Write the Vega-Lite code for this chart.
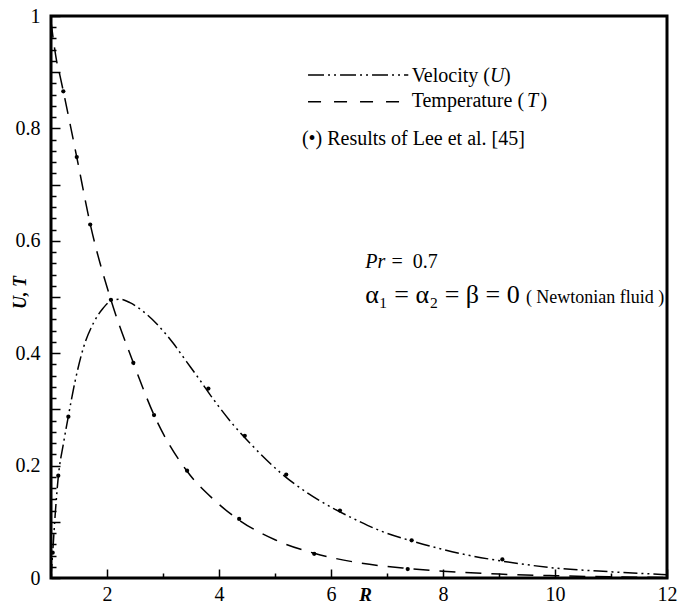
{
  "$schema": "https://vega.github.io/schema/vega-lite/v6.json",
  "width": 616,
  "height": 562,
  "autosize": {"type": "none"},
  "padding": {"left": 51, "top": 16, "right": 27, "bottom": 25},
  "config": {
    "view": {"stroke": "black", "strokeWidth": 3},
    "font": "Liberation Serif",
    "text": {"font": "Liberation Serif", "color": "black"}
  },
  "datasets": {
    "vel": [
      {"R": 1.0, "v": 0.0}, {"R": 1.03, "v": 0.045}, {"R": 1.08, "v": 0.12}, {"R": 1.13, "v": 0.18},
      {"R": 1.22, "v": 0.238}, {"R": 1.31, "v": 0.288}, {"R": 1.43, "v": 0.35}, {"R": 1.58, "v": 0.41},
      {"R": 1.76, "v": 0.454}, {"R": 1.93, "v": 0.48}, {"R": 2.07, "v": 0.493}, {"R": 2.23, "v": 0.496},
      {"R": 2.41, "v": 0.49}, {"R": 2.65, "v": 0.474}, {"R": 2.89, "v": 0.452}, {"R": 3.18, "v": 0.418},
      {"R": 3.42, "v": 0.385}, {"R": 3.66, "v": 0.352}, {"R": 3.9, "v": 0.318}, {"R": 4.26, "v": 0.272},
      {"R": 4.61, "v": 0.234}, {"R": 5.09, "v": 0.188}, {"R": 5.57, "v": 0.152}, {"R": 6.04, "v": 0.124},
      {"R": 6.52, "v": 0.1}, {"R": 6.88, "v": 0.084}, {"R": 7.44, "v": 0.066}, {"R": 8.48, "v": 0.04},
      {"R": 9.06, "v": 0.03}, {"R": 9.97, "v": 0.018}, {"R": 11.0, "v": 0.011}, {"R": 12.0, "v": 0.006}
    ],
    "temp": [
      {"R": 1.0, "v": 0.99}, {"R": 1.05, "v": 0.952}, {"R": 1.1, "v": 0.92}, {"R": 1.16, "v": 0.894},
      {"R": 1.22, "v": 0.866}, {"R": 1.46, "v": 0.749}, {"R": 1.7, "v": 0.63}, {"R": 2.07, "v": 0.495},
      {"R": 2.47, "v": 0.383}, {"R": 2.84, "v": 0.29}, {"R": 3.43, "v": 0.19}, {"R": 3.9, "v": 0.14},
      {"R": 4.36, "v": 0.103}, {"R": 5.0, "v": 0.068}, {"R": 5.7, "v": 0.044}, {"R": 6.5, "v": 0.027},
      {"R": 7.37, "v": 0.017}, {"R": 8.0, "v": 0.012}, {"R": 9.0, "v": 0.007}, {"R": 10.0, "v": 0.004},
      {"R": 11.0, "v": 0.002}, {"R": 12.0, "v": 0.001}
    ],
    "lee": [
      {"R": 1.03, "v": 0.045}, {"R": 1.13, "v": 0.182}, {"R": 1.31, "v": 0.287}, {"R": 2.07, "v": 0.495},
      {"R": 3.81, "v": 0.337}, {"R": 4.46, "v": 0.253}, {"R": 5.2, "v": 0.184}, {"R": 6.16, "v": 0.12},
      {"R": 7.44, "v": 0.067}, {"R": 9.06, "v": 0.033},
      {"R": 1.22, "v": 0.866}, {"R": 1.46, "v": 0.749}, {"R": 1.7, "v": 0.629}, {"R": 2.47, "v": 0.383},
      {"R": 2.84, "v": 0.29}, {"R": 3.43, "v": 0.191}, {"R": 4.36, "v": 0.105}, {"R": 5.7, "v": 0.043},
      {"R": 7.37, "v": 0.016}
    ],
    "legV": [{"R": 5.59, "R2": 7.38, "v": 0.895}],
    "legT": [{"R": 5.59, "R2": 7.38, "v": 0.8475}],
    "txt": [
      {"R": 7.44, "v": 0.883, "label": "Velocity ("},
      {"R": 9.09, "v": 0.883, "label": ")"},
      {"R": 7.44, "v": 0.8386, "label": "Temperature ("},
      {"R": 9.74, "v": 0.8386, "label": ")"},
      {"R": 5.48, "v": 0.7705, "label": "(•) Results of Lee et al. [45]"},
      {"R": 7.08, "v": 0.5516, "label": "= \u00a00.7"}
    ],
    "txtI": [
      {"R": 8.84, "v": 0.883, "label": "U"},
      {"R": 9.5, "v": 0.8386, "label": "T"},
      {"R": 6.61, "v": 0.5516, "label": "Pr"}
    ],
    "txtA": [{"R": 6.61, "v": 0.49, "label": "α₁ = α₂ = β = 0"}],
    "txtN": [{"R": 9.48, "v": 0.49, "label": "( Newtonian fluid )"}]
  },
  "encoding": {
    "x": {
      "field": "R", "type": "quantitative",
      "scale": {"domain": [1, 12], "nice": false, "zero": false},
      "axis": {
        "values": [1, 1.5, 2, 2.5, 3, 3.5, 4, 4.5, 5, 5.5, 6, 6.5, 7, 7.5, 8, 8.5, 9, 9.5, 10, 10.5, 11, 11.5, 12],
        "format": "d",
        "labelExpr": "datum.value % 2 == 0 && datum.value > 1 ? datum.label : ''",
        "tickSize": {"condition": {"test": "datum.value % 2 == 0", "value": -9}, "value": -5},
        "tickColor": "black", "tickWidth": 1.5,
        "labelPadding": 15, "labelFontSize": 20, "labelColor": "black", "labelFont": "Liberation Serif",
        "labelFlush": false, "labelOverlap": false,
        "domain": false, "grid": false,
        "title": "R", "titleFont": "Liberation Serif", "titleFontSize": 19, "titleFontStyle": "italic",
        "titleFontWeight": "bold", "titleColor": "black", "titleX": 314, "titleY": 22,
        "titleBaseline": "alphabetic", "titleAlign": "center"
      }
    },
    "y": {
      "field": "v", "type": "quantitative",
      "scale": {"domain": [0, 1], "nice": false, "zero": false},
      "axis": {
        "values": [0, 0.02, 0.04, 0.06, 0.08, 0.1, 0.12, 0.14, 0.16, 0.18, 0.2, 0.22, 0.24, 0.26, 0.28, 0.3, 0.32, 0.34, 0.36, 0.38, 0.4, 0.42, 0.44, 0.46, 0.48, 0.5, 0.52, 0.54, 0.56, 0.58, 0.6, 0.62, 0.64, 0.66, 0.68, 0.7, 0.72, 0.74, 0.76, 0.78, 0.8, 0.82, 0.84, 0.86, 0.88, 0.9, 0.92, 0.94, 0.96, 0.98, 1],
        "format": "~g",
        "labelExpr": "abs(datum.value * 5 - round(datum.value * 5)) < 0.000001 ? datum.label : ''",
        "tickSize": {"condition": {"test": "abs(datum.value * 10 - round(datum.value * 10)) < 0.000001", "value": -9}, "value": -5},
        "tickColor": "black", "tickWidth": 1.5,
        "labelPadding": 20, "labelFontSize": 20, "labelColor": "black", "labelFont": "Liberation Serif",
        "labelFlush": false, "labelOverlap": false,
        "domain": false, "grid": false,
        "title": "U, T", "titleFont": "Liberation Serif", "titleFontSize": 18, "titleFontStyle": "italic",
        "titleFontWeight": "bold", "titleColor": "black", "titleX": -31, "titleY": 276,
        "titleAngle": -90, "titleBaseline": "middle", "titleAlign": "center"
      }
    }
  },
  "layer": [
    {
      "data": {"name": "vel"},
      "mark": {"type": "line", "color": "black", "strokeWidth": 1.5, "strokeDash": [14, 4, 2, 4, 2, 4], "interpolate": "monotone", "clip": true}
    },
    {
      "data": {"name": "temp"},
      "mark": {"type": "line", "color": "black", "strokeWidth": 1.5, "strokeDash": [16, 10], "interpolate": "monotone", "clip": true}
    },
    {
      "data": {"name": "lee"},
      "mark": {"type": "point", "filled": true, "color": "black", "size": 18, "opacity": 1}
    },
    {
      "data": {"name": "legV"},
      "mark": {"type": "rule", "color": "black", "strokeWidth": 1.5, "strokeDash": [16, 4, 2, 4, 2, 4]},
      "encoding": {"x2": {"field": "R2"}}
    },
    {
      "data": {"name": "legT"},
      "mark": {"type": "rule", "color": "black", "strokeWidth": 1.5, "strokeDash": [13, 13]},
      "encoding": {"x2": {"field": "R2"}}
    },
    {
      "data": {"name": "txt"},
      "mark": {"type": "text", "align": "left", "baseline": "alphabetic", "fontSize": 20, "font": "Liberation Serif", "color": "black"},
      "encoding": {"text": {"field": "label"}}
    },
    {
      "data": {"name": "txtI"},
      "mark": {"type": "text", "align": "left", "baseline": "alphabetic", "fontSize": 20, "fontStyle": "italic", "font": "Liberation Serif", "color": "black"},
      "encoding": {"text": {"field": "label"}}
    },
    {
      "data": {"name": "txtA"},
      "mark": {"type": "text", "align": "left", "baseline": "alphabetic", "fontSize": 26, "font": "Liberation Serif", "color": "black"},
      "encoding": {"text": {"field": "label"}}
    },
    {
      "data": {"name": "txtN"},
      "mark": {"type": "text", "align": "left", "baseline": "alphabetic", "fontSize": 18, "font": "Liberation Serif", "color": "black"},
      "encoding": {"text": {"field": "label"}}
    }
  ]
}
